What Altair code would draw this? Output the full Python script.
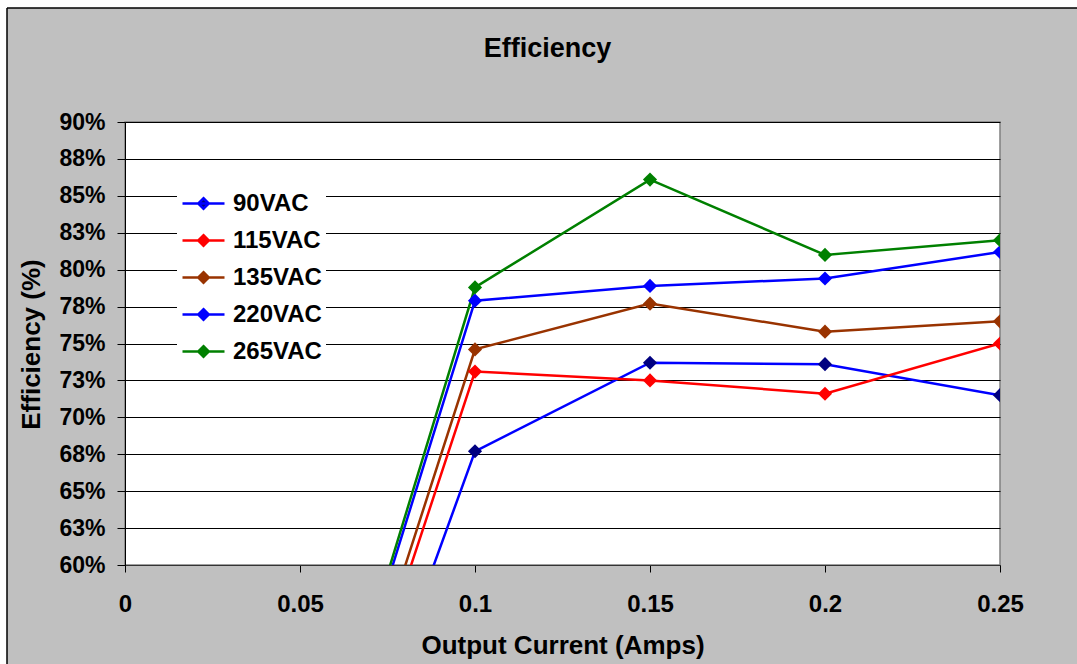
import altair as alt
import pandas as pd

# ---- data ----
currents = [0.05, 0.1, 0.15, 0.2, 0.25]
series_names = ["90VAC", "115VAC", "135VAC", "220VAC", "265VAC"]
eff_90 = [35.0, 67.7, 73.7, 73.6, 71.5]
eff_115 = [37.2, 73.1, 72.5, 71.6, 75.0]
eff_135 = [37.9, 74.6, 77.7, 75.8, 76.5]
eff_220 = [39.8, 77.9, 78.9, 79.4, 81.2]
eff_265 = [40.0, 78.8, 86.1, 81.0, 82.0]

line_colors = ["#0000FF", "#FF0000", "#993300", "#0000FF", "#008000"]
marker_colors = ["#000080", "#FF0000", "#993300", "#0000FF", "#008000"]

y_ticks = [60, 62.5, 65, 67.5, 70, 72.5, 75, 77.5, 80, 82.5, 85, 87.5, 90]
y_tick_labels = ["60%", "63%", "65%", "68%", "70%", "73%", "75%", "78%",
                 "80%", "83%", "85%", "88%", "90%"]
x_ticks = [0, 0.05, 0.1, 0.15, 0.2, 0.25]
x_tick_labels = ["0", "0.05", "0.1", "0.15", "0.2", "0.25"]

all_series = [eff_90, eff_115, eff_135, eff_220, eff_265]
rows = []
for name, vals in zip(series_names, all_series):
    for c, v in zip(currents, vals):
        rows.append({"series": name, "current": c, "eff": v})
df = pd.DataFrame(rows)

FONT = "Liberation Sans"

y_expr = ("[" + ",".join(f"'{l}'" for l in y_tick_labels) + "][indexof(["
          + ",".join(str(v) for v in y_ticks) + "], datum.value)]")
x_expr = ("[" + ",".join(f"'{l}'" for l in x_tick_labels) + "][indexof(["
          + ",".join(str(v) for v in x_ticks) + "], datum.value)]")

legend = alt.Legend(
    title=None, orient="none", legendX=52, legendY=55,
    symbolType="M-1,0L1,0M0,-0.25L0.25,0L0,0.25L-0.25,0Z",
    symbolSize=1764, symbolStrokeWidth=2.5, symbolOpacity=1,
    labelFont=FONT, labelFontSize=24, labelFontWeight="bold", labelColor="black",
    labelOffset=7, rowPadding=2, padding=4, fillColor="white",
)

x_enc = alt.X("current:Q", scale=alt.Scale(domain=[0, 0.25], nice=False, zero=False),
              axis=alt.Axis(values=x_ticks, tickCount=len(x_ticks), labelExpr=x_expr,
                            title="Output Current (Amps)",
                            grid=False, tickSize=7, tickColor="black", domainColor="#333333",
                            labelFont=FONT, labelFontSize=24, labelFontWeight="bold",
                            labelColor="black", labelPadding=20, labelFlush=False,
                            labelOverlap=False, titleFont=FONT, titleFontSize=26,
                            titleFontWeight="bold", titleColor="black", titleY=88,
                            titleBaseline="alphabetic"))
y_enc = alt.Y("eff:Q", scale=alt.Scale(domain=[60, 90], nice=False, zero=False),
              axis=alt.Axis(values=y_ticks, tickCount=len(y_ticks), labelExpr=y_expr,
                            title="Efficiency (%)",
                            grid=True, gridColor="black", gridWidth=1, tickSize=8,
                            tickColor="black", domainColor="black",
                            labelFont=FONT, labelFontSize=23, labelFontWeight="bold",
                            labelColor="black", labelPadding=12, labelFlush=False,
                            labelOverlap=False, titleFont=FONT, titleFontSize=26,
                            titleFontWeight="bold", titleColor="black", titleX=-86,
                            titleY=222, titleBaseline="alphabetic"))

base = alt.Chart(df)
lines = base.mark_line(strokeWidth=2.5, clip=True).encode(
    x=x_enc, y=y_enc,
    stroke=alt.Stroke("series:N", scale=alt.Scale(domain=series_names, range=line_colors),
                      legend=legend),
)
points = base.mark_point(shape="diamond", filled=True, size=200, opacity=1,
                         strokeWidth=0, clip=True).encode(
    x="current:Q", y="eff:Q",
    fill=alt.Fill("series:N", scale=alt.Scale(domain=series_names, range=marker_colors),
                  legend=legend),
)

# decorative outer frame of the chart area (white margin + black border)
one = alt.Data(values=[{"k": 1}])
white_left = alt.Chart(one).mark_rect(color="white").encode(
    x=alt.value(-125), x2=alt.value(-118), y=alt.value(-122), y2=alt.value(545))
white_top = alt.Chart(one).mark_rect(color="white").encode(
    x=alt.value(-125), x2=alt.value(955), y=alt.value(-122), y2=alt.value(-114))
rule_top = alt.Chart(one).mark_rule(color="black", strokeWidth=1.5).encode(
    x=alt.value(-118), x2=alt.value(955), y=alt.value(-114))
rule_left = alt.Chart(one).mark_rule(color="black", strokeWidth=1.5).encode(
    x=alt.value(-118), y=alt.value(-114), y2=alt.value(545))

chart = alt.layer(white_left, white_top, rule_top, rule_left, lines, points).properties(
    width=875, height=443,
    autosize=alt.AutoSizeParams(type="none"),
    padding={"left": 125, "top": 122, "right": 77, "bottom": 99},
    background="#C0C0C0",
    title=alt.TitleParams("Efficiency", font=FONT, fontSize=27, fontWeight="bold",
                          color="black", anchor="middle", dx=-15, offset=-84,
                          baseline="alphabetic"),
).configure_view(fill="white", stroke="#808080", strokeWidth=1.5)

chart.save("out.html", embed_options={"renderer": "svg", "actions": False})
